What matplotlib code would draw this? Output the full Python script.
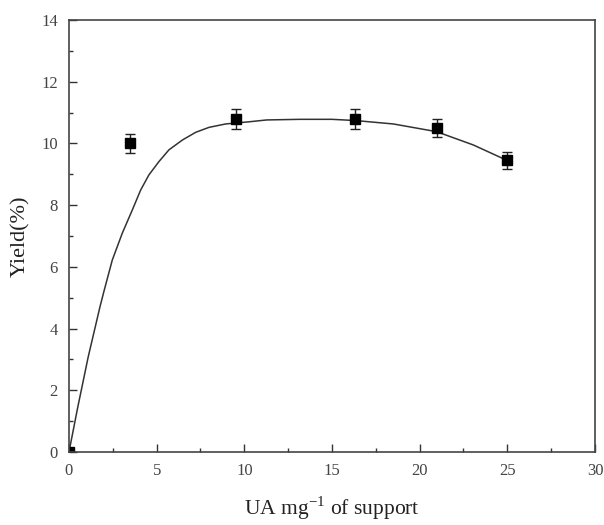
import numpy as np
import matplotlib
matplotlib.use("Agg")
import matplotlib.pyplot as plt
from matplotlib.ticker import MultipleLocator

plt.rcParams['font.family'] = ['Liberation Serif', 'DejaVu Serif']
plt.rcParams['mathtext.fontset'] = 'custom'
plt.rcParams['mathtext.rm'] = 'Liberation Serif'

# measured yield vs. enzyme loading
loading = [0, 3.5, 9.5, 16.3, 21.0, 25.0]
yield_pct = [0, 10.0, 10.8, 10.8, 10.5, 9.45]
yield_err = [0, 0.3, 0.32, 0.32, 0.3, 0.28]

# fitted trend line
fit_x = [0, 0.5, 1.1, 1.77, 2.0, 2.47, 3.04, 3.61, 4.09, 4.56, 5.13, 5.70, 6.47,
         7.23, 7.99, 8.94, 10.27, 11.28, 13.18, 15.0, 16.35, 18.5, 20.97, 23.06, 25.02]
fit_y = [0, 1.45, 3.09, 4.71, 5.22, 6.22, 7.09, 7.84, 8.49, 8.98, 9.41, 9.79, 10.11,
         10.36, 10.52, 10.63, 10.70, 10.76, 10.78, 10.78, 10.74, 10.63, 10.38, 9.95, 9.44]

fig = plt.figure(figsize=(6.04, 5.25), dpi=100)
ax = fig.add_axes([0.1142, 0.139, 0.8708, 0.823])

ax.plot(fit_x, fit_y, color='#333333', lw=1.1)
ax.errorbar(loading, yield_pct, yerr=yield_err, fmt='s', color='black',
            ms=7, ecolor='#222222', elinewidth=1, capsize=3.5, capthick=1)

ax.set_xlim(0, 30)
ax.set_ylim(0, 14)
ax.xaxis.set_major_locator(MultipleLocator(5))
ax.xaxis.set_minor_locator(MultipleLocator(2.5))
ax.yaxis.set_major_locator(MultipleLocator(2))
ax.yaxis.set_minor_locator(MultipleLocator(1))
ax.tick_params(which='both', direction='in', top=False, right=False,
               colors='#333333', labelcolor='#444444', labelsize=12)
ax.tick_params(which='major', length=6, width=1)
ax.tick_params(which='minor', length=3, width=1)
for s in ax.spines.values():
    s.set_color('#444444')
    s.set_linewidth(1.2)
ax.xaxis.set_tick_params(pad=8)
ax.yaxis.set_tick_params(pad=8)

ax.set_xlabel(r'UA mg$^{\mathregular{-1}}$ of support', fontsize=15.5, color='#222222', labelpad=11)
ax.set_ylabel('Yield(%)', fontsize=16, color='#222222', labelpad=8)

fig.savefig('out.png', dpi=100)
